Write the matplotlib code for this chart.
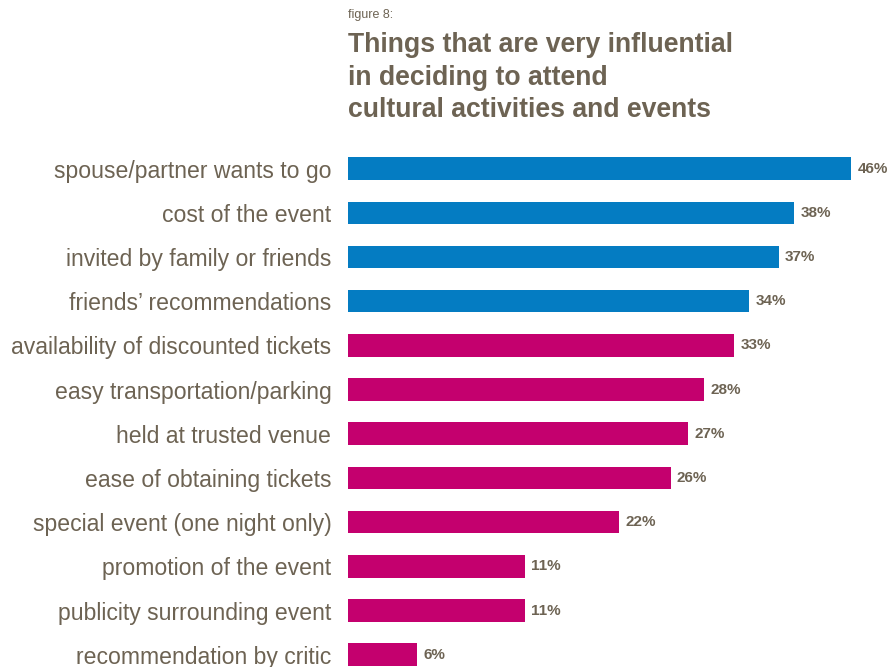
import matplotlib
matplotlib.use('Agg')
from matplotlib import pyplot as plt

categories = ['spouse/partner wants to go', 'cost of the event',
              'invited by family or friends', "friends\u2019 recommendations",
              'availability of discounted tickets', 'easy transportation/parking',
              'held at trusted venue', 'ease of obtaining tickets',
              'special event (one night only)', 'promotion of the event',
              'publicity surrounding event', 'recommendation by critic']
# printed percentages
labels = [46, 38, 37, 34, 33, 28, 27, 26, 22, 11, 11, 6]
# bar lengths as drawn in the original (same scale as the 46% bar)
bar_len = [46, 40.8, 39.4, 36.7, 35.3, 32.6, 31.1, 29.5, 24.8, 16.2, 16.2, 6.3]
n_blue = 4

blue = '#047CC2'
pink = '#C4006E'
txt = '#6D6353'

plt.rcParams['font.family'] = ['Liberation Sans', 'DejaVu Sans']

fig = plt.figure(figsize=(8.9, 6.67), dpi=100)
ax = fig.add_axes([348 / 890, -0.0147, 542 / 890, 0.795])

colors = [blue if i < n_blue else pink for i in range(len(categories))]
ys = list(range(len(categories)))
ax.barh(ys, bar_len, height=0.51, color=colors)
ax.set_ylim(len(categories) - 0.5, -0.5)
ax.set_xlim(0, 542 / (503 / 46))

for y, v, lab in zip(ys, bar_len, labels):
    ax.annotate('%d%%' % lab, (v, y), xytext=(4.5, 0), textcoords='offset points',
                ha='left', va='center', fontsize=11, fontweight='bold', color=txt)

ax.set_yticks(ys)
ax.set_yticklabels(categories, fontsize=16.6, color=txt)
ax.tick_params(axis='y', length=0, pad=12)
ax.set_xticks([])
for s in ax.spines.values():
    s.set_visible(False)

fig.text(348 / 890, 1 - 9 / 667, 'figure 8:', fontsize=9, color=txt, va='top', ha='left')
fig.text(348 / 890, 1 - 32 / 667,
         'Things that are very influential\nin deciding to attend\ncultural activities and events',
         fontsize=19.2, fontweight='bold', color=txt, va='top', ha='left', linespacing=1.33)

fig.savefig('out.png', dpi=100)
